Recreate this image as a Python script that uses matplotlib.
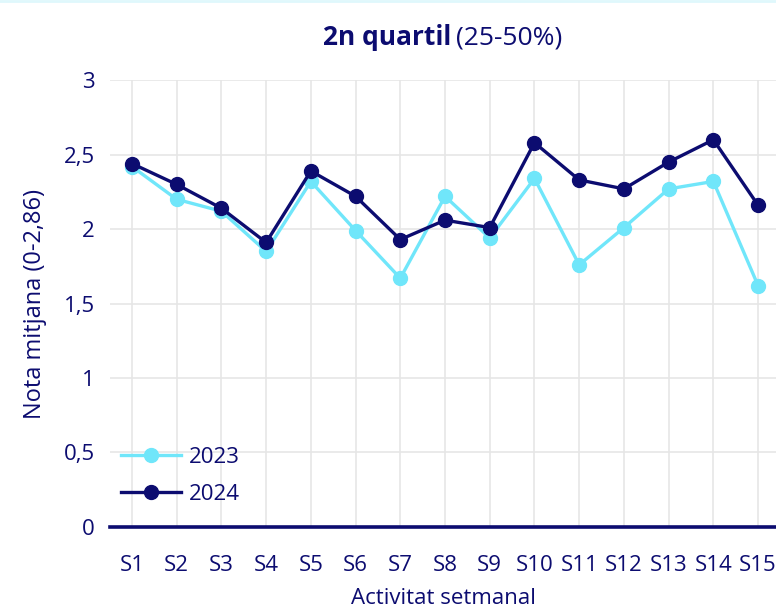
import numpy as np
import matplotlib.pyplot as plt

plt.rcParams['font.family'] = ['Open Sans', 'DejaVu Sans']

sessions = ['S%d' % i for i in range(1, 16)]
nota_2023 = [2.42, 2.20, 2.12, 1.85, 2.32, 1.99, 1.67, 2.22, 1.94, 2.34, 1.76, 2.01, 2.27, 2.32, 1.62]
nota_2024 = [2.44, 2.30, 2.14, 1.91, 2.39, 2.22, 1.93, 2.06, 2.01, 2.58, 2.33, 2.27, 2.45, 2.60, 2.16]

navy = '#0c0c70'
cyan = '#70e6fa'

fig = plt.figure(figsize=(7.76, 6.12), dpi=100)
ax = fig.add_axes([0.1418, 0.139, 0.8582, 0.730])

x = np.arange(len(sessions))
ax.plot(x, nota_2023, color=cyan, lw=2.4, marker='o', ms=10, label='2023', clip_on=False)
ax.plot(x, nota_2024, color=navy, lw=2.4, marker='o', ms=10, label='2024', clip_on=False)

ax.set_xlim(-0.49, 14.4)
ax.set_ylim(0, 3)
ax.set_xticks(x)
ax.set_xticklabels(sessions)
ax.set_yticks([0, 0.5, 1, 1.5, 2, 2.5, 3])
ax.set_yticklabels(['0', '0,5', '1', '1,5', '2', '2,5', '3'])
ax.grid(True, color='#e6e6e6', lw=1.2)
ax.set_axisbelow(True)
for s in ['top', 'right', 'left']:
    ax.spines[s].set_visible(False)
ax.spines['bottom'].set_color(navy)
ax.spines['bottom'].set_linewidth(2.6)
ax.tick_params(length=0, labelsize=16, labelcolor=navy)
ax.tick_params(axis='x', pad=20)
ax.tick_params(axis='y', pad=11)

ax.set_ylabel('Nota mitjana (0-2,86)', fontsize=17, color=navy, labelpad=12)
ax.set_xlabel('Activitat setmanal', fontsize=16, color=navy, labelpad=9)

leg = ax.legend(loc='lower left', bbox_to_anchor=(-0.013, 0.005), frameon=False,
                fontsize=16, handlelength=2.7, handletextpad=0.35, labelspacing=0.7,
                labelcolor=navy)

fig.text(0.582, 0.938, '2n quartil', fontsize=19, fontweight='bold', color=navy,
         ha='right', va='center')
fig.text(0.588, 0.938, '(25-50%)', fontsize=19, color=navy, ha='left', va='center')

fig.add_artist(plt.Line2D([0, 1], [0.999, 0.999], color='#dff8fc', lw=2))

fig.savefig('out.png', dpi=100)
